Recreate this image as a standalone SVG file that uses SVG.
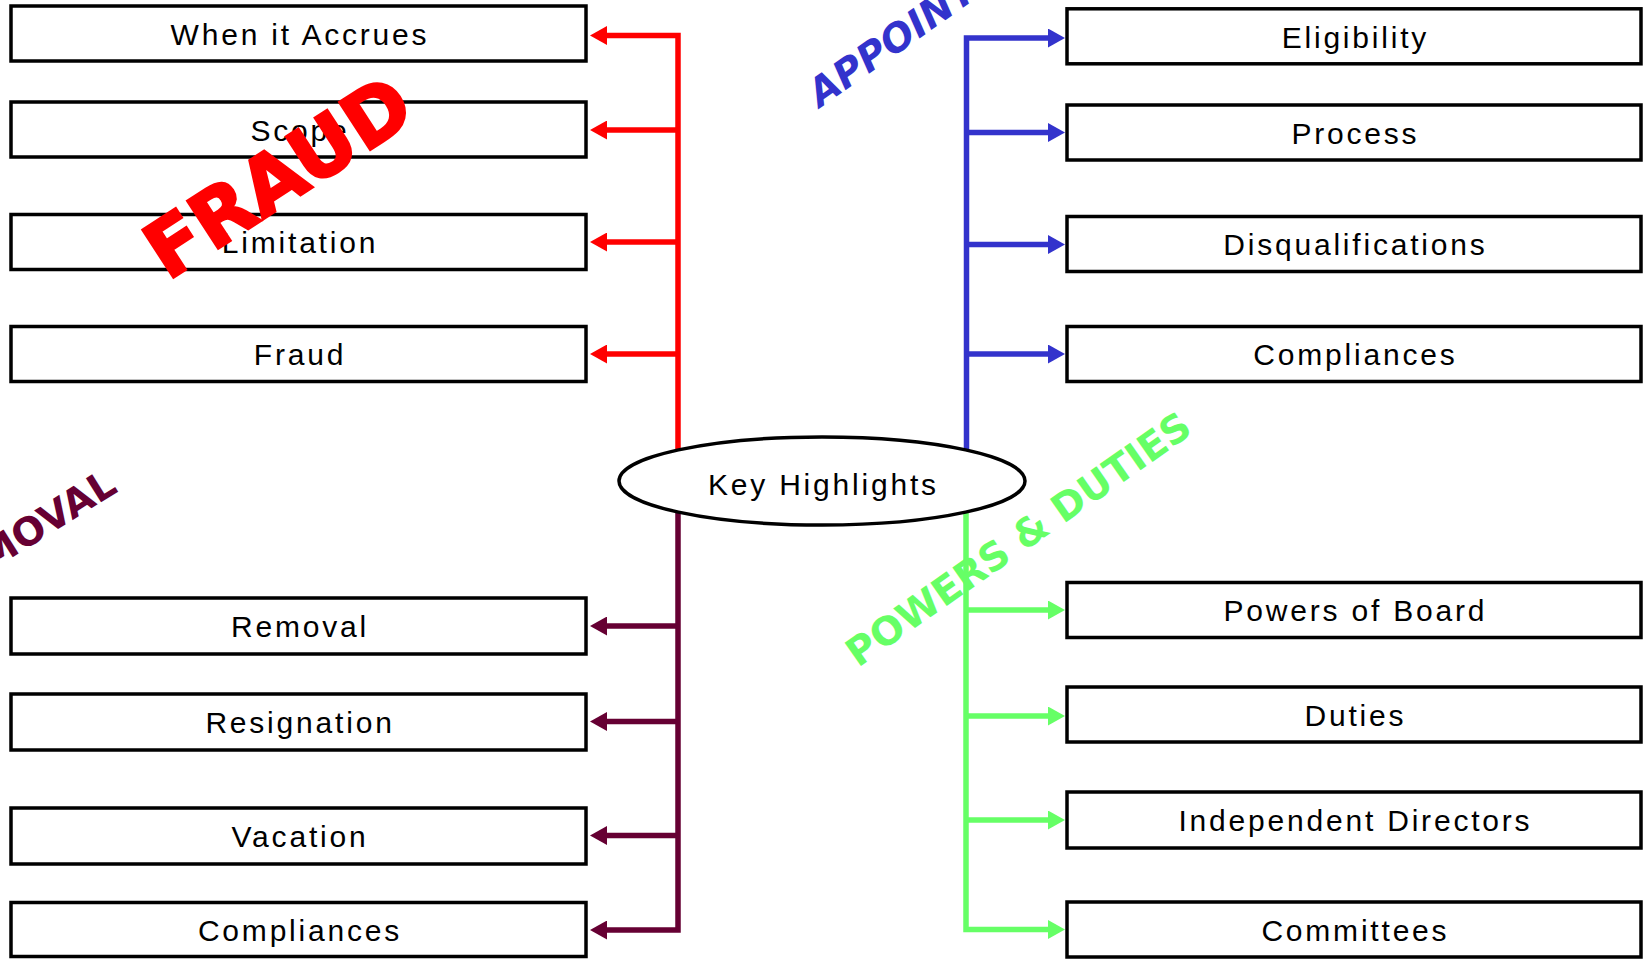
<svg xmlns="http://www.w3.org/2000/svg" width="1643" height="959" viewBox="0 0 1643 959">
<style>
.box{fill:#fff;stroke:#000;stroke-width:3.5}
.lbl{font-family:"Liberation Sans",Arial,sans-serif;font-size:30px;letter-spacing:2.8px;text-anchor:middle;fill:#000}
.wm{font-family:"DejaVu Sans",Verdana,sans-serif;font-weight:bold}
.c{fill:none;stroke-width:5.5;stroke-linejoin:miter}
.red{stroke:#FF0000}.blue{stroke:#3333CC}.mar{stroke:#660033}.grn{stroke:#66FF66}
</style>
<defs>
<marker id="aR" viewBox="0 0 17 19" refX="7" refY="9.5" markerWidth="17" markerHeight="19" markerUnits="userSpaceOnUse" orient="auto"><path d="M0,0 L17,9.5 L0,19 z" fill="#FF0000"/></marker>
<marker id="aB" viewBox="0 0 17 19" refX="7" refY="9.5" markerWidth="17" markerHeight="19" markerUnits="userSpaceOnUse" orient="auto"><path d="M0,0 L17,9.5 L0,19 z" fill="#3333CC"/></marker>
<marker id="aM" viewBox="0 0 17 19" refX="7" refY="9.5" markerWidth="17" markerHeight="19" markerUnits="userSpaceOnUse" orient="auto"><path d="M0,0 L17,9.5 L0,19 z" fill="#660033"/></marker>
<marker id="aG" viewBox="0 0 17 19" refX="7" refY="9.5" markerWidth="17" markerHeight="19" markerUnits="userSpaceOnUse" orient="auto"><path d="M0,0 L17,9.5 L0,19 z" fill="#66FF66"/></marker>
</defs>
<rect width="1643" height="959" fill="#fff"/>
<g id="connectors">
<path class="c red" d="M678,452 V35.5 H600" marker-end="url(#aR)"/>
<line class="c red" x1="678" y1="130" x2="600" y2="130" marker-end="url(#aR)"/>
<line class="c red" x1="678" y1="242" x2="600" y2="242" marker-end="url(#aR)"/>
<line class="c red" x1="678" y1="354" x2="600" y2="354" marker-end="url(#aR)"/>
<path class="c blue" d="M966.5,452 V38 H1055" marker-end="url(#aB)"/>
<line class="c blue" x1="966.5" y1="132.5" x2="1055" y2="132.5" marker-end="url(#aB)"/>
<line class="c blue" x1="966.5" y1="244.5" x2="1055" y2="244.5" marker-end="url(#aB)"/>
<line class="c blue" x1="966.5" y1="354" x2="1055" y2="354" marker-end="url(#aB)"/>
<path class="c mar" d="M678,510 V930 H600" marker-end="url(#aM)"/>
<line class="c mar" x1="678" y1="626" x2="600" y2="626" marker-end="url(#aM)"/>
<line class="c mar" x1="678" y1="721.5" x2="600" y2="721.5" marker-end="url(#aM)"/>
<line class="c mar" x1="678" y1="835.5" x2="600" y2="835.5" marker-end="url(#aM)"/>
<path class="c grn" d="M966,510 V929.5 H1055" marker-end="url(#aG)"/>
<line class="c grn" x1="966" y1="610" x2="1055" y2="610" marker-end="url(#aG)"/>
<line class="c grn" x1="966" y1="716" x2="1055" y2="716" marker-end="url(#aG)"/>
<line class="c grn" x1="966" y1="820" x2="1055" y2="820" marker-end="url(#aG)"/>
</g>
<g id="center"><ellipse cx="822" cy="481" rx="203" ry="44" fill="#fff" stroke="#000" stroke-width="3.5"/><text class="lbl" x="823.4" y="495">Key Highlights</text></g>
<g id="n-when"><rect class="box" x="11" y="6" width="575" height="55"/><text class="lbl" x="300" y="44.5">When it Accrues</text></g>
<g id="n-scope"><rect class="box" x="11" y="102" width="575" height="55"/><text class="lbl" x="300" y="140.5">Scope</text></g>
<g id="n-limitation"><rect class="box" x="11" y="214.5" width="575" height="55"/><text class="lbl" x="300" y="253">Limitation</text></g>
<g id="n-fraud"><rect class="box" x="11" y="326.5" width="575" height="55"/><text class="lbl" x="300" y="365">Fraud</text></g>
<g id="n-removal"><rect class="box" x="11" y="598" width="575" height="56"/><text class="lbl" x="300" y="637">Removal</text></g>
<g id="n-resignation"><rect class="box" x="11" y="694" width="575" height="56"/><text class="lbl" x="300" y="733">Resignation</text></g>
<g id="n-vacation"><rect class="box" x="11" y="808" width="575" height="56"/><text class="lbl" x="300" y="847">Vacation</text></g>
<g id="n-compl-l"><rect class="box" x="11" y="902.5" width="575" height="54"/><text class="lbl" x="300" y="940.5">Compliances</text></g>
<g id="n-eligibility"><rect class="box" x="1067" y="8.8" width="574" height="55"/><text class="lbl" x="1355.4" y="47.5">Eligibility</text></g>
<g id="n-process"><rect class="box" x="1067" y="105" width="574" height="55"/><text class="lbl" x="1355.4" y="143.5">Process</text></g>
<g id="n-disq"><rect class="box" x="1067" y="216.5" width="574" height="55"/><text class="lbl" x="1355.4" y="255">Disqualifications</text></g>
<g id="n-compl-r"><rect class="box" x="1067" y="326.5" width="574" height="55"/><text class="lbl" x="1355.4" y="365">Compliances</text></g>
<g id="n-powers"><rect class="box" x="1067" y="582.5" width="574" height="55"/><text class="lbl" x="1355.4" y="621">Powers of Board</text></g>
<g id="n-duties"><rect class="box" x="1067" y="687" width="574" height="55"/><text class="lbl" x="1355.4" y="725.5">Duties</text></g>
<g id="n-indep"><rect class="box" x="1067" y="792" width="574" height="56"/><text class="lbl" x="1355.4" y="831">Independent Directors</text></g>
<g id="n-committees"><rect class="box" x="1067" y="902" width="574" height="55"/><text class="lbl" x="1355.4" y="940.5">Committees</text></g>
<g id="watermarks">
<text class="wm" font-size="78" fill="#FF0000" stroke="#FF0000" stroke-width="2.5" text-anchor="middle" transform="translate(293,200) rotate(-33)">FRAUD</text>
<text class="wm" font-size="39" fill="#3333CC" font-style="italic" transform="translate(820,108) rotate(-35)">APPOINTMENT</text>
<text class="wm" font-size="39" fill="#660033" text-anchor="end" transform="translate(119,491) rotate(-32)">REMOVAL</text>
<text class="wm" font-size="39" fill="#66FF66" transform="translate(858,668) rotate(-35)">POWERS &amp; DUTIES</text>
</g>
</svg>
